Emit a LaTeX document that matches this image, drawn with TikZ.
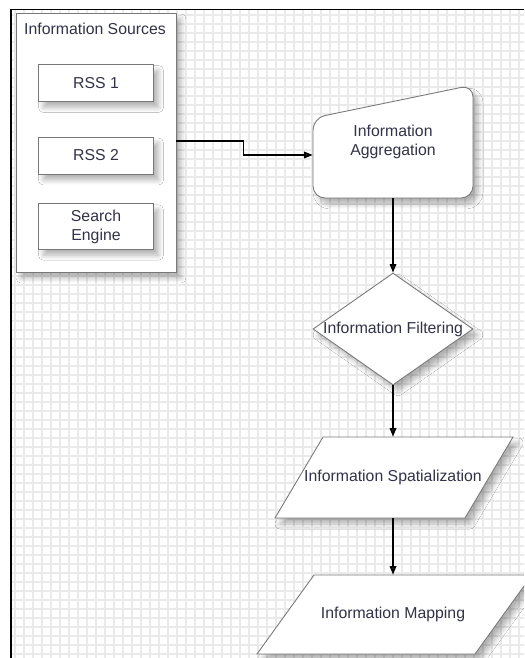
\documentclass[tikz,border=0pt]{standalone}
\usepackage{fontspec}
\setmainfont{Liberation Sans}
\usetikzlibrary{shapes.geometric}
\usetikzlibrary{shadows.blur}
\usetikzlibrary{arrows.meta}
\definecolor{inktext}{RGB}{50,50,72}
\definecolor{edgegray}{RGB}{120,120,120}
\definecolor{gridgray}{RGB}{234,234,234}
\tikzset{
  px/.style = {x=0.02cm, y=-0.02cm},
  chart text/.style = {font=\fontsize{9}{10.8}\selectfont, text=inktext, align=center},
  soft shadow/.style = {blur shadow={shadow xshift=0.1cm, shadow yshift=-0.12cm,
    shadow blur radius=0.1cm, shadow blur steps=8, shadow opacity=30}},
  chart box/.style = {draw=edgegray, fill=white, line width=0.5pt, soft shadow},
  hidden box/.style = {rectangle, inner sep=0pt},
  flow/.style = {line width=0.9pt, -{Triangle[length=0.17cm,width=0.13cm]}}
}

\begin{document}
\begin{tikzpicture}[
  px,
  every node/.style = {chart text},
]
\useasboundingbox (0,0) rectangle (524,658);
\clip (0,0) rectangle (524,658);
\fill[white] (0,0) rectangle (524,658);
% paper grid
\foreach \gx in {15,24,...,523}
  \draw[gridgray, line width=0.8pt] (\gx,10) -- (\gx,658);
\foreach \gy in {15,24,...,657}
  \draw[gridgray, line width=0.8pt] (11,\gy) -- (524,\gy);
\draw[line width=0.9pt] (11,658) -- (11,9.5) -- (524,9.5);

% sources
\node[chart box, minimum width=3.2cm, minimum height=5.18cm] (src) at (96,142.5) {};
\node (srctitle) at (95,29) {Information Sources};
\node[chart box, minimum width=2.3cm, minimum height=0.74cm] (rss1) at (96,83) {RSS 1};
\node[chart box, minimum width=2.3cm, minimum height=0.74cm] (rss2) at (96,155.5) {RSS 2};
\node[chart box, minimum width=2.3cm, minimum height=0.74cm] (engine) at (96,226.5) {Search\\Engine};

% process chain
\draw[chart box, rounded corners=0.24cm]
  (313,141) -- (313,118) -- (473,85) -- (473,198) -- (313,198) -- cycle;
\node[hidden box, minimum width=3.2cm, minimum height=2.26cm] (aggr) at (393,141.5)
  {Information\\Aggregation};
\node[chart box, diamond, inner sep=0pt, minimum width=3.2cm, minimum height=2.24cm,
  label=center:{Information Filtering}] (filter) at (393,329) {};
\draw[chart box] (323,437) -- (513,437) -- (465,518) -- (275,518) -- cycle;
\node[hidden box, minimum width=4.76cm, minimum height=1.62cm] (spat) at (393,477.5)
  {Information Spatialization};
\draw[chart box] (314,575) -- (532,575) -- (475,654) -- (257,654) -- cycle;
\node[hidden box, minimum width=5.5cm, minimum height=1.58cm] (mapping) at (393,614.5)
  {Information Mapping};

\draw[flow] (src.east |- 0,141) -- ++(67,0) |- ([yshift=-0.27cm]aggr.west);
\draw[flow] (aggr.south) -- (filter.north);
\draw[flow] (filter.south) -- (spat.north);
\draw[flow] (spat.south) -- (mapping.north);
\end{tikzpicture}
\end{document}
